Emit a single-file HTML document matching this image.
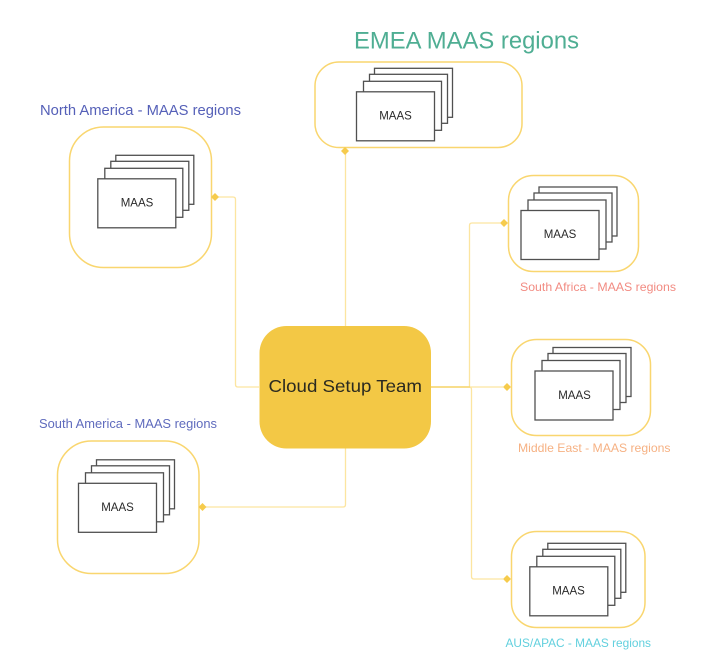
<!DOCTYPE html>
<html lang="en">
<head>
<meta charset="utf-8">
<title>Cloud Setup Team - MAAS regions</title>
<style>
html,body{margin:0;padding:0;background:#fff;width:720px;height:671px;overflow:hidden}
svg{display:block}
text{font-family:"Liberation Sans","DejaVu Sans",sans-serif}
.box{fill:#fff;stroke:#f9d66f;stroke-width:1.5}
.line{fill:none;stroke:#fce5a0;stroke-width:1.3}
.dia{fill:#f6cb4c}
.st rect{fill:#fff;stroke:#505050;stroke-width:1.3}
.m{font-size:11.5px;fill:#2a2a2a;text-anchor:middle}
</style>
</head>
<body>
<svg width="720" height="671" viewBox="0 0 720 671" xmlns="http://www.w3.org/2000/svg">
<defs>
<g id="stack" class="st">
<rect x="18" y="-23.5" width="78" height="49"/>
<rect x="13" y="-17.5" width="78" height="49"/>
<rect x="7" y="-10.5" width="78" height="49"/>
<rect x="0" y="0" width="78" height="49"/>
</g>
<path id="d" d="M0-4L4 0L0 4L-4 0Z"/>
</defs>

<!-- connectors -->
<path class="line" d="M345.500 326V152"/>
<path class="line" d="M259 387H238Q235.500 387 235.500 384.500V199.500Q235.500 197 233 197H218"/>
<path class="line" d="M345.500 448V504.500Q345.500 507 343 507H205"/>
<path class="line" d="M431 387H469.500V225.500Q469.500 223 472 223H500"/>
<path class="line" d="M431 387H503"/>
<path class="line" d="M431 387H469Q471.500 387 471.500 389.500V576.500Q471.500 579 474 579H503"/>
<path d="M431 387H470" fill="none" stroke="#f6d468" stroke-width="1.3"/>

<!-- region boxes -->
<rect class="box" x="315" y="62" width="207" height="85.500" rx="24"/>
<rect class="box" x="69.500" y="127" width="142" height="140.500" rx="34"/>
<rect class="box" x="57.500" y="441" width="141.500" height="132.500" rx="34"/>
<rect class="box" x="508.500" y="175.500" width="130" height="96" rx="25"/>
<rect class="box" x="511.500" y="339.500" width="139" height="96" rx="25"/>
<rect class="box" x="511.500" y="531.500" width="133.500" height="96" rx="25"/>

<!-- arrowhead diamonds -->
<use href="#d" class="dia" x="345" y="151"/>
<use href="#d" class="dia" x="215" y="197"/>
<use href="#d" class="dia" x="202.500" y="507"/>
<use href="#d" class="dia" x="504" y="223"/>
<use href="#d" class="dia" x="507" y="387"/>
<use href="#d" class="dia" x="507" y="579"/>

<!-- central node -->
<rect x="259.500" y="326" width="171.500" height="122.500" rx="27" fill="#f3c845"/>
<text x="268.500" y="392" font-size="17.500" fill="#2b2a20" textLength="153.500" lengthAdjust="spacingAndGlyphs">Cloud Setup Team</text>

<!-- stacks -->
<use href="#stack" x="356.500" y="91.800"/>
<text class="m" x="395.500" y="119.500">MAAS</text>
<use href="#stack" x="97.800" y="178.800"/>
<text class="m" x="137" y="206.500">MAAS</text>
<use href="#stack" x="78.500" y="483.300"/>
<text class="m" x="117.500" y="511">MAAS</text>
<use href="#stack" x="521" y="210.500"/>
<text class="m" x="560" y="238">MAAS</text>
<use href="#stack" x="535" y="371"/>
<text class="m" x="574.500" y="399">MAAS</text>
<use href="#stack" x="529.800" y="566.800"/>
<text class="m" x="568.500" y="594.500">MAAS</text>

<!-- labels -->
<text x="354" y="48.500" font-size="24.500" fill="#4fae93" textLength="225" lengthAdjust="spacingAndGlyphs">EMEA MAAS regions</text>
<text x="40" y="115" font-size="14.500" fill="#5560b8" textLength="201" lengthAdjust="spacingAndGlyphs">North America - MAAS regions</text>
<text x="39" y="428" font-size="13" fill="#5f6bbd" textLength="178" lengthAdjust="spacingAndGlyphs">South America - MAAS regions</text>
<text x="520" y="291" font-size="12" fill="#f28b82" textLength="156" lengthAdjust="spacingAndGlyphs">South Africa - MAAS regions</text>
<text x="518" y="452" font-size="12" fill="#f6b183" textLength="152.500" lengthAdjust="spacingAndGlyphs">Middle East - MAAS regions</text>
<text x="505.500" y="647" font-size="12" fill="#62d0de" textLength="145.500" lengthAdjust="spacingAndGlyphs">AUS/APAC - MAAS regions</text>
</svg>
</body>
</html>
